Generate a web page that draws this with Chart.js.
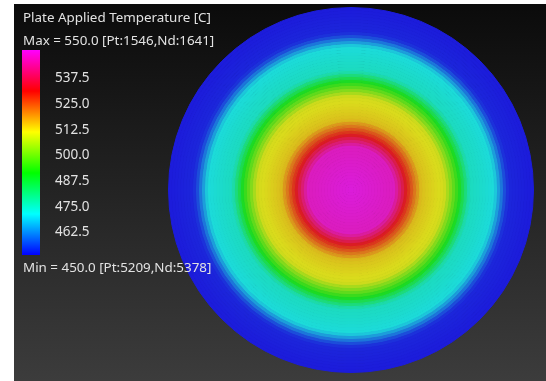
<!DOCTYPE html>
<html>
<head>
<meta charset="utf-8">
<script src="https://cdn.jsdelivr.net/npm/chart.js@4/dist/chart.umd.min.js"></script>
<style>
html, body { margin: 0; padding: 0; background: #fff; }
#plot { position: absolute; left: 14px; top: 4px; width: 532px; height: 377px; background: linear-gradient(#0b0b0b, #3c3c3c); }
#disc { position: absolute; left: 168px; top: 7px; }
#bar { position: absolute; left: 22px; top: 50px; }
.txt { position: absolute; left: 23px; font-family: "Noto Sans"; font-size: 13.4px; line-height: 13.4px; color: #e2e2e2; white-space: nowrap; }
</style>
</head>
<body>
<div id="plot"></div>
<canvas id="disc" width="366" height="366"></canvas>
<canvas id="bar" width="88" height="205"></canvas>
<div class="txt" id="title" style="top:11px">Plate Applied Temperature [C]</div>
<div class="txt" id="maxTxt" style="top:34px">Max = 550.0 [Pt:1546,Nd:1641]</div>
<div class="txt" id="minTxt" style="top:261px">Min = 450.0 [Pt:5209,Nd:5378]</div>
<script>
var tMin = 450.0;
var tMax = 550.0;
var tickValues = [462.5, 475.0, 487.5, 500.0, 512.5, 525.0, 537.5];

// colour scale nodes (value -> rgb)
var scaleValues = [450, 470, 490, 510, 530, 550];
var scaleColors = [[0,0,255],[0,255,255],[0,255,0],[255,255,0],[255,0,0],[255,0,255]];

// temperature of each ring, from the plate edge (first) to the centre (last)
var ringTemps = [
  450.0, 450.1, 450.2, 450.4, 450.5, 450.7, 450.8, 451.0, 452.2, 455.1,
  459.4, 463.6, 467.9, 470.2, 470.6, 471.0, 471.4, 471.7, 472.1, 472.4,
  472.8, 475.3, 480.0, 484.6, 489.2, 493.2, 497.0, 500.8, 504.6, 508.4,
  509.4, 509.9, 510.4, 511.0, 511.5, 512.0, 512.6, 513.6, 517.0, 520.4,
  523.8, 527.2, 530.7, 535.0, 539.2, 543.5, 547.0, 547.2, 547.4, 547.6,
  547.9, 548.1, 548.3, 548.5, 548.7, 548.9, 549.1, 549.3, 549.5, 549.7,
  549.9
];

function tempColor(t) {
  var i = 0;
  while (i < scaleValues.length - 2 && t > scaleValues[i + 1]) i++;
  var f = (t - scaleValues[i]) / (scaleValues[i + 1] - scaleValues[i]);
  f = Math.max(0, Math.min(1, f));
  var a = scaleColors[i], b = scaleColors[i + 1];
  var rgb = a.map(function (c, k) { return c + (b[k] - c) * f; });
  // plate is drawn lit, a bit duller than the legend
  rgb = rgb.map(function (c) { return Math.round(28 + 0.75 * c); });
  return 'rgb(' + rgb.join(',') + ')';
}

var discConfig = {
  type: 'doughnut',
  data: {
    labels: ['T'],
    datasets: ringTemps.map(function (t) {
      return { data: [t], backgroundColor: tempColor(t), borderColor: tempColor(t), borderWidth: 1 };
    })
  },
  options: {
    responsive: false,
    animation: false,
    events: [],
    cutout: 0,
    layout: { padding: 0 },
    plugins: { legend: { display: false }, tooltip: { enabled: false } }
  }
};

var barConfig = {
  type: 'bar',
  data: {
    labels: ['T'],
    datasets: [{
      data: [[tMin, tMax]],
      borderWidth: 0,
      barPercentage: 1,
      categoryPercentage: 1,
      backgroundColor: function (ctx) {
        var area = ctx.chart.chartArea;
        if (!area) return null;
        var g = ctx.chart.ctx.createLinearGradient(0, area.bottom, 0, area.top);
        scaleValues.forEach(function (v, k) {
          g.addColorStop((v - tMin) / (tMax - tMin), 'rgb(' + scaleColors[k].join(',') + ')');
        });
        return g;
      }
    }]
  },
  options: {
    responsive: false,
    animation: false,
    events: [],
    layout: { padding: 0 },
    plugins: { legend: { display: false }, tooltip: { enabled: false } },
    scales: {
      x: { display: false },
      y: {
        position: 'right',
        min: tMin,
        max: tMax,
        grid: { display: false, drawTicks: false },
        border: { display: false },
        afterBuildTicks: function (s) { s.ticks = tickValues.map(function (v) { return { value: v }; }); },
        afterFit: function (s) { s.width = 70; s.paddingTop = 0; s.paddingBottom = 0; },
        ticks: {
          padding: 15,
          labelOffset: 3,
          color: '#e2e2e2',
          font: { family: 'Noto Sans', size: 13.5 },
          callback: function (v) { return Number(v).toFixed(1); }
        }
      }
    }
  }
};

var discChart = new Chart(document.getElementById('disc'), discConfig);
var barChart = new Chart(document.getElementById('bar'), barConfig);
</script>
</body>
</html>
